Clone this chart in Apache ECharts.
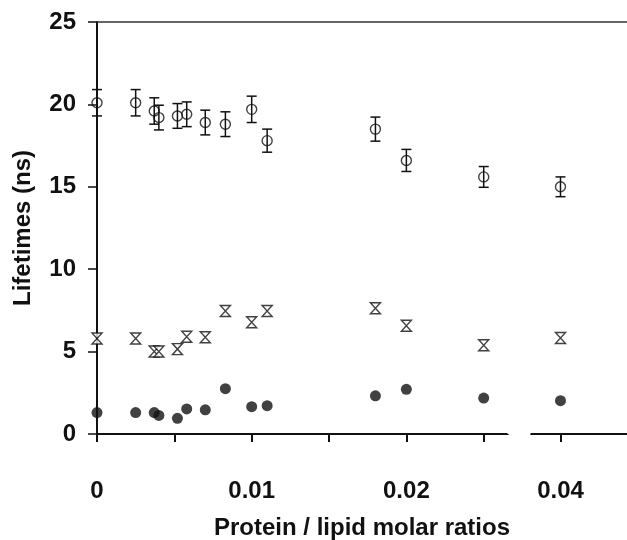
<!doctype html>
<html>
	<head>
		<meta charset="UTF-8">
		<title></title>
		<script src="https://cdn.jsdelivr.net/npm/echarts@6/dist/echarts.min.js"></script>
		<style type="text/css">
			html,body{
				margin: 0;
				padding: 0;
				background: #fff;
			}
			#chart{
				width: 627px;
				height: 540px;
			}
		</style>
	</head>
	<body>
		<div id="chart"></div>
		<script type="text/javascript">
			// protein / lipid molar ratios
			var ratios = [0, 0.0025, 0.0037, 0.004, 0.0052, 0.0058, 0.007, 0.0083, 0.01, 0.011, 0.018, 0.02, 0.025, 0.04];
			// long lifetime (open circles) and its error
			var longLife = [20.1, 20.1, 19.6, 19.2, 19.3, 19.4, 18.9, 18.8, 19.7, 17.8, 18.5, 16.6, 15.6, 15.0];
			var longErr = [0.8, 0.8, 0.8, 0.75, 0.75, 0.75, 0.75, 0.75, 0.8, 0.7, 0.73, 0.67, 0.63, 0.6];
			// middle lifetime (hourglass)
			var midLife = [5.8, 5.8, 5.0, 5.0, 5.15, 5.9, 5.87, 7.46, 6.78, 7.46, 7.63, 6.57, 5.38, 5.83];
			// short lifetime (filled circles)
			var shortLife = [1.3, 1.3, 1.3, 1.13, 0.95, 1.52, 1.47, 2.75, 1.66, 1.72, 2.32, 2.71, 2.18, 2.02];
			// x ticks and labelled x ticks
			var xTicks = [0, 0.005, 0.01, 0.015, 0.02, 0.025, 0.04];
			var xTickLabels = [0, 0.01, 0.02, 0.04];

			var font = 'Liberation Sans, Arial, sans-serif';
			function pairs(ys){
				var out = [];
				for(var i=0;i<ratios.length;i++){
					out.push([ratios[i], ys[i]]);
				}
				return out;
			}
			var errData = [];
			for(var i=0;i<ratios.length;i++){
				errData.push([ratios[i], longLife[i] - longErr[i], longLife[i] + longErr[i]]);
			}

			var myChart = echarts.init(document.getElementById('chart'));
			var option = {
				backgroundColor: '#fff',
				animation: false,
				grid: {left: 97, right: 0, top: 22, bottom: 106, show: false, containLabel: false, outerBoundsMode: 'none'},
				xAxis: [{
					type: 'value',
					min: 0,
					max: 0.0443,
					interval: 0.005,
					breaks: [{start: 0.02655, end: 0.03806, gap: '4.3%'}],
					breakArea: {
						show: true,
						expandOnClick: false,
						zigzagAmplitude: 0,
						itemStyle: {color: '#fff', borderColor: '#fff', borderWidth: 0, opacity: 1}
					},
					name: 'Protein / lipid molar ratios',
					nameLocation: 'middle',
					nameGap: 82,
					nameTextStyle: {fontFamily: font, fontWeight: 'bold', fontSize: 24, color: '#111'},
					axisLine: {onZero: false, lineStyle: {color: '#111', width: 2}},
					axisTick: {show: true, length: 8, customValues: xTicks, lineStyle: {color: '#111', width: 2}},
					axisLabel: {
						margin: 45,
						customValues: xTickLabels,
						fontFamily: font, fontWeight: 'bold', fontSize: 24, color: '#111',
						formatter: function(v){
							return String(Math.round(v*10000)/10000);
						}
					},
					splitLine: {show: false}
				}, {
					type: 'value',
					position: 'top',
					min: 0,
					max: 0.0443,
					zlevel: 1,
					axisLine: {show: true, onZero: false, lineStyle: {color: '#333', width: 1.5}},
					axisTick: {show: false},
					axisLabel: {show: false},
					splitLine: {show: false}
				}],
				yAxis: {
					type: 'value',
					min: 0,
					max: 25,
					interval: 5,
					name: 'Lifetimes (ns)',
					nameLocation: 'middle',
					nameGap: 62,
					nameTextStyle: {fontFamily: font, fontWeight: 'bold', fontSize: 24, color: '#111'},
					axisLine: {show: true, onZero: false, lineStyle: {color: '#111', width: 2}},
					axisTick: {show: true, length: 9, lineStyle: {color: '#111', width: 1.5}},
					axisLabel: {margin: 21, fontFamily: font, fontWeight: 'bold', fontSize: 24, color: '#111'},
					splitLine: {show: false}
				},
				series: [
					{
						type: 'custom',
						data: errData,
						z: 3,
						renderItem: function(params, api){
							var top = api.coord([api.value(0), api.value(2)]);
							var bot = api.coord([api.value(0), api.value(1)]);
							var w = 5;
							var st = {stroke: '#111', lineWidth: 1.5};
							return {
								type: 'group',
								children: [
									{type: 'line', shape: {x1: top[0], y1: top[1], x2: bot[0], y2: bot[1]}, style: st},
									{type: 'line', shape: {x1: top[0]-w, y1: top[1], x2: top[0]+w, y2: top[1]}, style: st},
									{type: 'line', shape: {x1: bot[0]-w, y1: bot[1], x2: bot[0]+w, y2: bot[1]}, style: st}
								]
							};
						}
					},
					{
						type: 'scatter',
						data: pairs(longLife),
						symbol: 'circle',
						symbolSize: 10,
						z: 4,
						itemStyle: {color: 'rgba(255,255,255,0)', borderColor: '#111', borderWidth: 1.4}
					},
					{
						type: 'scatter',
						data: pairs(midLife),
						symbol: 'path://M0,0 L10,0 L0,12 L10,12 Z',
						symbolSize: [10, 11],
						z: 4,
						itemStyle: {color: '#fff', borderColor: '#111', borderWidth: 1.4}
					},
					{
						type: 'scatter',
						data: pairs(shortLife),
						symbol: 'circle',
						symbolSize: 11,
						z: 4,
						itemStyle: {color: '#111'}
					}
				]
			};
			myChart.setOption(option);
		</script>
	</body>
</html>
